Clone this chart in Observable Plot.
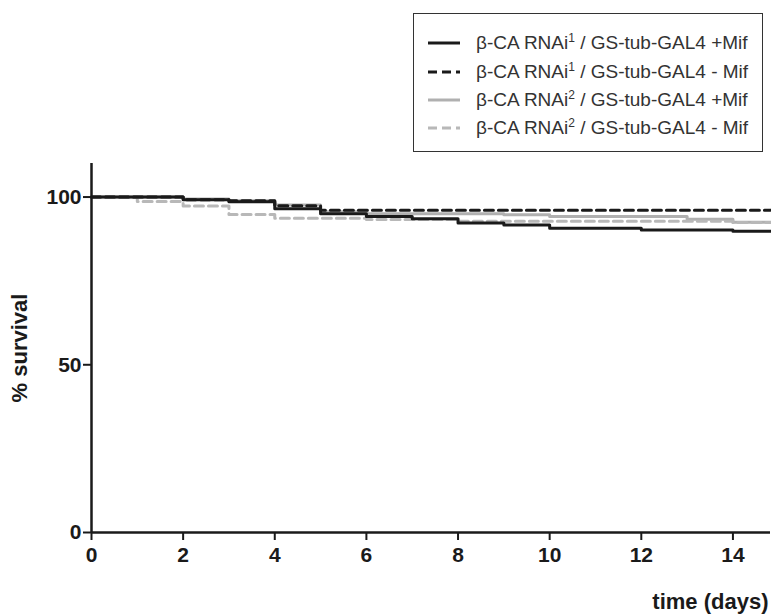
<!DOCTYPE html>
<html>
<head>
<meta charset="utf-8">
<script src="https://cdn.jsdelivr.net/npm/d3@7"></script>
<script src="https://cdn.jsdelivr.net/npm/@observablehq/plot@0.6"></script>
<style>
  html, body { margin: 0; padding: 0; background: #fff; overflow: hidden; }
  #wrap { position: relative; width: 771px; height: 614px; font-family: "Liberation Sans", Arial, sans-serif; }
  #legend { position: absolute; left: 413px; top: 13px; width: 350px; height: 139px; border: 1.5px solid #333; box-sizing: border-box; background: #fff; }
  .row { position: absolute; left: 0; height: 24px; display: flex; align-items: center; }
  .row svg { margin-left: 14px; margin-right: 16px; }
  .row span { font-size: 19px; color: #333; white-space: nowrap; }
  .row sup { font-size: 12px; vertical-align: 7px; line-height: 0; }
</style>
</head>
<body>
<div id="wrap"><div id="legend"></div></div>
<script>
// Series: step survival curves (day, % survival)
const seriesNames = [
  "β-CA RNAi1 / GS-tub-GAL4 +Mif",
  "β-CA RNAi1 / GS-tub-GAL4 - Mif",
  "β-CA RNAi2 / GS-tub-GAL4 +Mif",
  "β-CA RNAi2 / GS-tub-GAL4 - Mif"
];
const legendMain = ["β-CA RNAi", "β-CA RNAi", "β-CA RNAi", "β-CA RNAi"];
const legendSup = ["1", "1", "2", "2"];
const legendRest = [" / GS-tub-GAL4 +Mif", " / GS-tub-GAL4 - Mif", " / GS-tub-GAL4 +Mif", " / GS-tub-GAL4 - Mif"];

const days1Plus = [0, 2, 3, 4, 5, 6, 7, 8, 9, 10, 12, 14, 14.82];
const surv1Plus = [100, 99.2, 98.6, 96.5, 95.0, 94.2, 93.5, 92.3, 91.7, 90.7, 90.2, 89.8, 89.8];

const days1Minus = [0, 2, 3, 4, 5, 14.82];
const surv1Minus = [100, 99.2, 98.9, 97.4, 96.1, 96.1];

const days2Plus = [0, 2, 3, 4, 5, 6, 9, 10, 13, 14, 14.82];
const surv2Plus = [100, 99.4, 98.9, 97.6, 95.6, 95.0, 94.7, 94.2, 93.4, 92.5, 92.5];

const days2Minus = [0, 1, 2, 3, 4, 6, 8, 14, 14.82];
const surv2Minus = [100, 98.7, 97.3, 94.8, 93.7, 93.3, 92.8, 92.4, 92.4];

const xTicks = [0, 2, 4, 6, 8, 10, 12, 14];
const yTicks = [0, 50, 100];

const colors = ["#1a1a1a", "#1a1a1a", "#b0b0b0", "#b8b8b8"];
const dashes = [null, "9,5", null, "9,5"];

const toRows = (days, surv) => days.map((d, i) => ({day: d, surv: surv[i]}));
const data = [
  toRows(days1Plus, surv1Plus),
  toRows(days1Minus, surv1Minus),
  toRows(days2Plus, surv2Plus),
  toRows(days2Minus, surv2Minus)
];
const drawOrder = [2, 3, 0, 1];

const chart = Plot.plot({
  width: 771,
  height: 614,
  marginTop: 163,
  marginBottom: 82,
  marginLeft: 91,
  marginRight: 1,
  style: {fontFamily: "'Liberation Sans', Arial, sans-serif", background: "#fff", overflow: "visible"},
  x: {domain: [0, 14.82]},
  y: {domain: [0, 110]},
  marks: [
    ...drawOrder.map(i => Plot.line(data[i], {
      x: "day", y: "surv", curve: "step-after",
      stroke: colors[i], strokeWidth: 3, strokeDasharray: dashes[i]
    })),
    Plot.ruleX([0], {stroke: "#1a1a1a", strokeWidth: 2.5}),
    Plot.ruleY([0], {stroke: "#1a1a1a", strokeWidth: 2.5}),
    Plot.axisX(xTicks, {tickSize: 8, tickPadding: 7, stroke: "#1a1a1a", strokeWidth: 2,
      fontSize: 21, fontWeight: "bold", fill: "#1a1a1a",
      label: "time (days)", labelAnchor: "right", labelArrow: "none", labelOffset: 76}),
    Plot.axisY(yTicks, {tickSize: 8, tickPadding: 2, stroke: "#1a1a1a", strokeWidth: 2,
      fontSize: 21, fontWeight: "bold", fill: "#1a1a1a",
      label: "% survival", labelAnchor: "center", labelArrow: "none", labelOffset: 80})
  ]
});
chart.style.position = "absolute";
chart.style.left = "0";
chart.style.top = "0";
// enlarge axis titles
chart.querySelectorAll("g[aria-label='x-axis label'] text, g[aria-label='y-axis label'] text").forEach(t => {
  t.setAttribute("font-size", "22");
});
document.getElementById("wrap").prepend(chart);

// Legend
const legend = document.getElementById("legend");
const rowTops = [17, 46, 74, 102];
seriesNames.forEach((name, i) => {
  const row = document.createElement("div");
  row.className = "row";
  row.style.top = rowTops[i] + "px";
  const svg = d3.create("svg").attr("width", 32).attr("height", 10);
  svg.append("line").attr("x1", 0).attr("x2", 32).attr("y1", 5).attr("y2", 5)
    .attr("stroke", colors[i]).attr("stroke-width", 3)
    .attr("stroke-dasharray", dashes[i]);
  row.appendChild(svg.node());
  const span = document.createElement("span");
  span.append(legendMain[i]);
  const sup = document.createElement("sup");
  sup.textContent = legendSup[i];
  span.appendChild(sup);
  span.append(legendRest[i]);
  row.appendChild(span);
  legend.appendChild(row);
});
</script>
</body>
</html>
